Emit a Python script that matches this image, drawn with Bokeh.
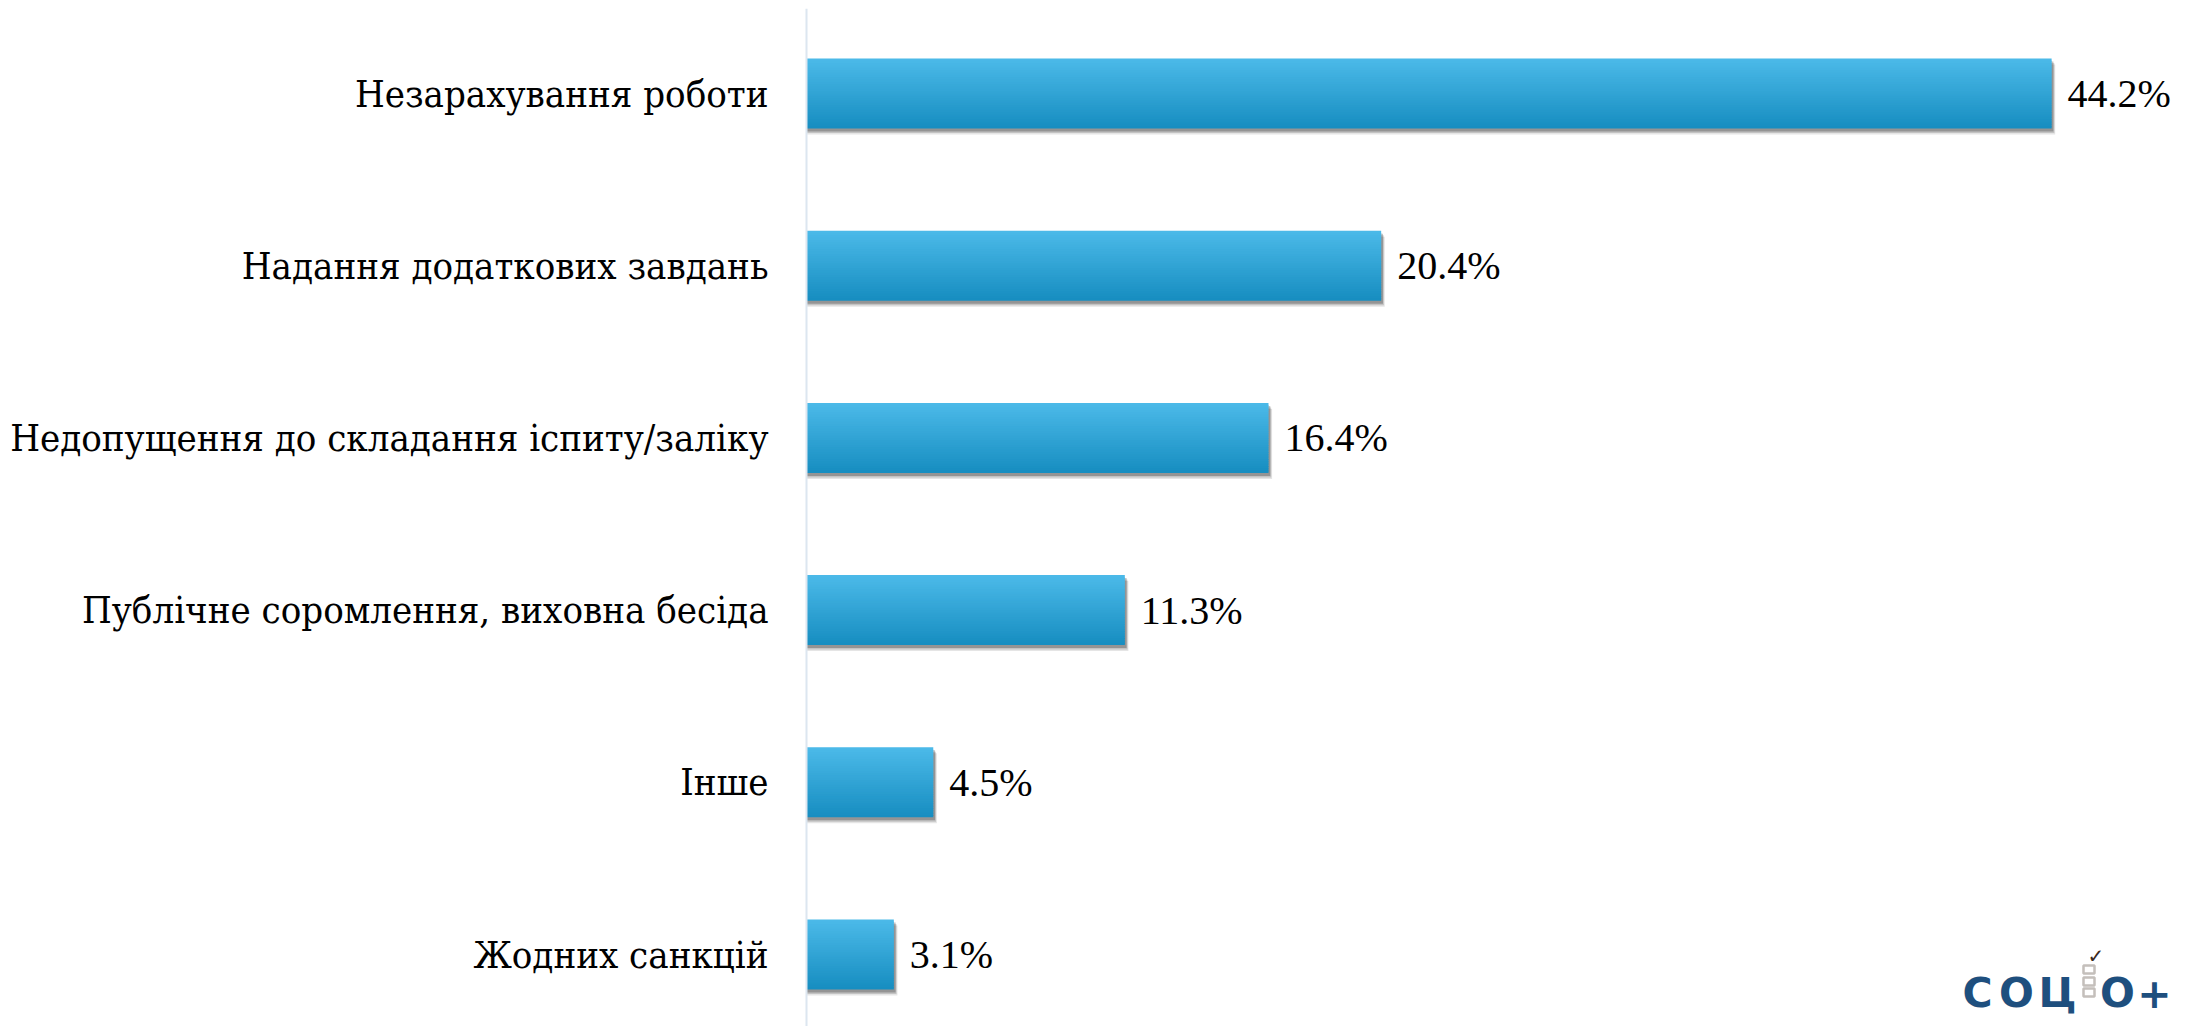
import numpy as np
from bokeh.plotting import figure
from bokeh.models import ColumnDataSource, Range1d, Label, BoxAnnotation, Span
from bokeh.transform import dodge
from bokeh.core.properties import value
from bokeh.embed import file_html
from bokeh.resources import INLINE

# ---- data ----
categories = [
    "Незарахування роботи",
    "Надання додаткових завдань",
    "Недопущення до складання іспиту/заліку",
    "Публічне соромлення, виховна бесіда",
    "Інше",
    "Жодних санкцій",
]
values = [44.2, 20.4, 16.4, 11.3, 4.5, 3.1]
value_labels = [f"{v:.1f}%" for v in values]

n = len(categories)
ypos = [n - 1 - i for i in range(n)]
src = ColumnDataSource(dict(y=ypos, v=values, lab=value_labels, cat=categories,
                            zero=[0] * n))

# ---- geometry ----
W, H = 2190, 1026
PAD = 8           # page offset of the frame
AXIS_X = 806      # page x of the value axis (x = 0)
TOP = 8
PX_X = 28.17      # px per percent
PX_ROW = 172.2    # px per category row
frame_h = H - TOP
x_start = -(AXIS_X - PAD) / PX_X
x_end = (W - AXIS_X) / PX_X
top_extra = 85 / PX_ROW
bottom_extra = (frame_h / PX_ROW) - 5 - top_extra
bar_h = 70 / PX_ROW

p = figure(width=W, height=H,
           x_range=Range1d(x_start, x_end),
           y_range=Range1d(-bottom_extra, n - 1 + top_extra),
           output_backend="svg", toolbar_location=None,
           min_border_left=PAD, min_border_right=0,
           min_border_top=TOP, min_border_bottom=0)
p.outline_line_color = None
p.xgrid.visible = False
p.ygrid.visible = False
p.xaxis.visible = False
p.yaxis.visible = False
p.background_fill_color = "white"
p.border_fill_color = "white"

# value axis line
p.add_layout(Span(location=0, dimension="height", line_color="#DCE6F0", line_width=2))

# shadow
for off, alpha in [(6, 0.10), (4.5, 0.15), (3, 0.24)]:
    p.hbar(y=dodge("y", -off / PX_ROW), left=0,
           right=dodge("v", (off * 0.6) / PX_X), height=bar_h,
           source=src, fill_color="#000000", fill_alpha=alpha, line_color=None)

# gradient bars (slices drawn top to bottom, each overlapping the next)
K = 30
top_c = np.array([76, 186, 233])
bot_c = np.array([22, 141, 192])
s = bar_h / K
ov = 1.0 / PX_ROW
for k in range(K):
    t = (k + 0.5) / K
    c = top_c * (1 - t) + bot_c * t
    col = "#%02x%02x%02x" % tuple(int(round(x)) for x in c)
    top_off = bar_h / 2 - k * s
    bot_off = bar_h / 2 - (k + 1) * s - (ov if k < K - 1 else 0)
    p.quad(left=0, right="v", top=dodge("y", top_off), bottom=dodge("y", bot_off),
           source=src, fill_color=col, line_color=None)

# value labels
p.text(x="v", y="y", text="lab", source=src, x_offset=16,
       text_baseline="middle", text_align="left",
       text_font=value("serif"), text_font_size="40px",
       text_color="black")

# category labels
p.text(x="zero", y="y", text="cat", source=src, x_offset=-38,
       text_baseline="middle", text_align="right",
       text_font=value("DejaVu Serif Condensed"), text_font_size="38px",
       text_color="black")

# logo (screen units relative to plot frame)
dx = AXIS_X - PAD
logo_col = "#1E4F7E"
for ch, cx in [("С", 1171), ("О", 1210), ("Ц", 1251), ("О", 1311), ("+", 1348)]:
    p.add_layout(Label(x=cx + dx, y=34, x_units="screen", y_units="screen", text=ch,
                       text_font="DejaVu Sans", text_font_style="bold", text_font_size="41px",
                       text_color=logo_col, text_baseline="alphabetic", text_align="center"))
for b in [30, 41, 53]:
    p.add_layout(BoxAnnotation(left=1277 + dx, right=1288 + dx, bottom=b, top=b + 8,
                               left_units="screen", right_units="screen",
                               bottom_units="screen", top_units="screen",
                               fill_alpha=0, line_color="#3B2A1E", line_width=2.5))
p.add_layout(Label(x=1281 + dx, y=59, x_units="screen", y_units="screen", text="✓",
                   text_font="DejaVu Sans", text_font_size="20px",
                   text_color="#3B2A1E", text_baseline="bottom"))

open("out.html", "w").write(file_html(p, INLINE))
